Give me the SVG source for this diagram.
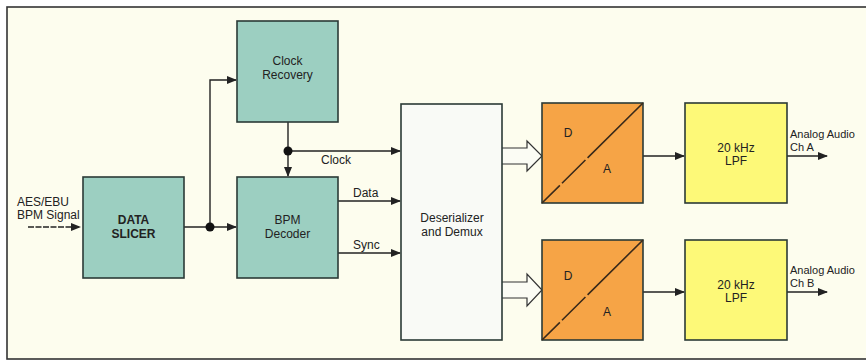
<svg xmlns="http://www.w3.org/2000/svg" width="866" height="362" viewBox="0 0 866 362">
<defs>
<marker id="ah" markerWidth="10" markerHeight="8" refX="9" refY="4" orient="auto" markerUnits="userSpaceOnUse">
<path d="M0,0 L10,4 L0,8 Z" fill="#222"/>
</marker>
<style>
.box{stroke:#2b3a36;stroke-width:1.6}
.teal{fill:#9ccfc1}
.org{fill:#f6a446}
.yel{fill:#fdf978}
.wht{fill:#f9faf6}
.ln{fill:none;stroke:#222;stroke-width:1.4}
.wa{fill:#fbfcf4;stroke:#333;stroke-width:1.2}
text{font-family:"Liberation Sans",Arial,sans-serif;font-size:12px;fill:#222}
.c{text-anchor:middle}
.b{font-weight:bold}
.s{font-size:11px}
</style>
</defs>
<rect x="0" y="0" width="866" height="362" fill="#ffffff"/>
<rect x="7" y="7" width="866" height="352" fill="#fdfdee" stroke="#333" stroke-width="1.6"/>

<g id="connectors">
<line class="ln" x1="28" y1="227" x2="80" y2="227" stroke-dasharray="6,1.5" marker-end="url(#ah)"/>
<line class="ln" x1="184" y1="227" x2="236" y2="227" marker-end="url(#ah)"/>
<polyline class="ln" points="210,227 210,80 236,80" marker-end="url(#ah)"/>
<circle cx="210" cy="227" r="4.5" fill="#111"/>
<line class="ln" x1="288" y1="122" x2="288" y2="176" marker-end="url(#ah)"/>
<line class="ln" x1="288" y1="151" x2="400" y2="151" marker-end="url(#ah)"/>
<circle cx="288" cy="151" r="4.5" fill="#111"/>
<line class="ln" x1="338" y1="201" x2="400" y2="201" marker-end="url(#ah)"/>
<line class="ln" x1="338" y1="253" x2="400" y2="253" marker-end="url(#ah)"/>
<path class="wa" d="M502,148 L527,148 L527,141 L542,156 L527,171 L527,164 L502,164"/>
<path class="wa" d="M502,282 L527,282 L527,274 L542,290 L527,306 L527,298 L502,298"/>
<line class="ln" x1="643" y1="156" x2="684" y2="156" marker-end="url(#ah)"/>
<line class="ln" x1="643" y1="292" x2="684" y2="292" marker-end="url(#ah)"/>
<line class="ln" x1="787" y1="156" x2="827" y2="156" marker-end="url(#ah)"/>
<line class="ln" x1="787" y1="292" x2="827" y2="292" marker-end="url(#ah)"/>
<text x="321" y="164">Clock</text>
<text x="353" y="197">Data</text>
<text x="353" y="249">Sync</text>
<text x="17" y="206">AES/EBU</text>
<text x="17" y="219">BPM Signal</text>
<text class="s" x="790" y="138">Analog Audio</text>
<text class="s" x="790" y="151">Ch A</text>
<text class="s" x="790" y="274">Analog Audio</text>
<text class="s" x="790" y="287">Ch B</text>
</g>

<g id="data-slicer">
<rect class="box teal" x="83" y="177" width="101" height="101"/>
<text class="c b" x="133.5" y="224">DATA</text>
<text class="c b" x="133.5" y="238">SLICER</text>
</g>
<g id="clock-recovery">
<rect class="box teal" x="237" y="21" width="101" height="101"/>
<text class="c" x="287.5" y="65">Clock</text>
<text class="c" x="287.5" y="79">Recovery</text>
</g>
<g id="bpm-decoder">
<rect class="box teal" x="237" y="177" width="101" height="101"/>
<text class="c" x="287.5" y="224">BPM</text>
<text class="c" x="287.5" y="238">Decoder</text>
</g>
<g id="deserializer">
<rect class="box wht" x="401" y="104" width="101" height="236"/>
<text class="c" x="452" y="222">Deserializer</text>
<text class="c" x="452" y="236">and Demux</text>
</g>
<g id="dac-a">
<rect class="box org" x="542" y="103" width="101" height="100"/>
<line x1="643" y1="103" x2="542" y2="203" stroke="#3a2a1a" stroke-width="1.6" stroke-dasharray="78,3,33,3,40"/>
<text class="c" x="568" y="137">D</text>
<text class="c" x="607" y="173">A</text>
</g>
<g id="dac-b">
<rect class="box org" x="542" y="240" width="101" height="100"/>
<line x1="643" y1="240" x2="542" y2="340" stroke="#3a2a1a" stroke-width="1.6" stroke-dasharray="78,3,33,3,40"/>
<text class="c" x="568" y="280">D</text>
<text class="c" x="607" y="316">A</text>
</g>
<g id="lpf-a">
<rect class="box yel" x="685" y="103" width="102" height="100"/>
<text class="c" x="736" y="152">20 kHz</text>
<text class="c" x="736" y="165">LPF</text>
</g>
<g id="lpf-b">
<rect class="box yel" x="685" y="240" width="102" height="100"/>
<text class="c" x="736" y="289">20 kHz</text>
<text class="c" x="736" y="302">LPF</text>
</g>
</svg>
